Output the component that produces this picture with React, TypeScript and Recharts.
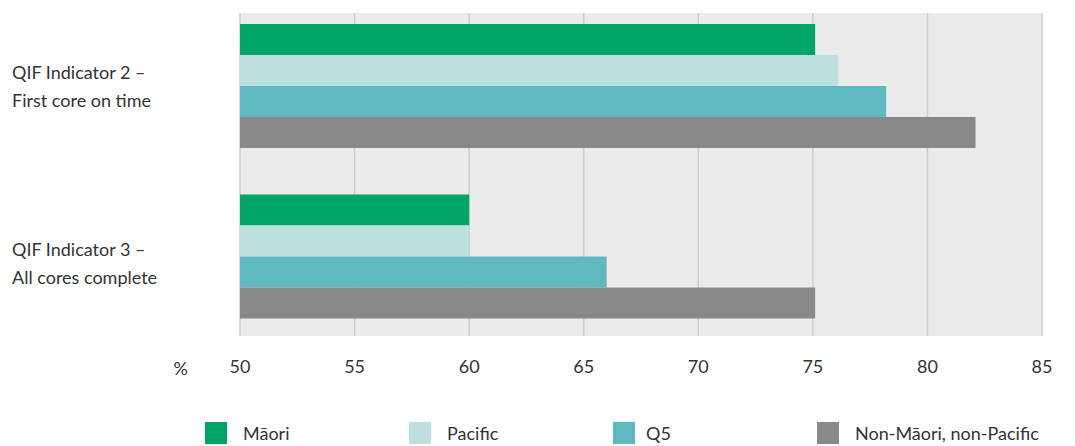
import React from 'react';
import { BarChart, Bar, XAxis, YAxis, CartesianGrid } from 'recharts';

const categories = ['QIF Indicator 2 –|First core on time', 'QIF Indicator 3 –|All cores complete'];
const maori = [75.1, 60.0];
const pacific = [76.1, 60.0];
const q5 = [78.2, 66.0];
const nonMaori = [82.1, 75.1];
const xTicks = [50, 55, 60, 65, 70, 75, 80, 85];

const seriesNames = ['Māori', 'Pacific', 'Q5', 'Non-Māori, non-Pacific'];
const seriesKeys = ['maori', 'pacific', 'q5', 'nonMaori'];
const seriesColors = ['#00a665', '#bcdfe0', '#5fb9c1', '#898989'];

const data = categories.map((c, i) => ({
  category: c,
  maori: maori[i],
  pacific: pacific[i],
  q5: q5[i],
  nonMaori: nonMaori[i],
}));

const FONT = 'Lato, "Open Sans", sans-serif';
const TEXT = '#333333';

const CategoryTick = (props: any) => {
  const { y, payload, index } = props;
  const lines = String(payload.value).split('|');
  const shift = (index ?? payload.index ?? 0) * 7;
  return (
    <g>
      {lines.map((l: string, i: number) => (
        <text
          key={i}
          x={12}
          y={y - 14 + shift + i * 28}
          dy="0.35em"
          textAnchor="start"
          fontFamily={FONT}
          fontSize={18}
          fill={TEXT}
        >
          {l}
        </text>
      ))}
    </g>
  );
};

const LegendBlock = () => (
  <div
    style={{
      position: 'absolute',
      left: 205,
      top: 422,
      display: 'flex',
      fontFamily: FONT,
      fontSize: 18,
      color: TEXT,
      whiteSpace: 'nowrap',
      lineHeight: '22px',
    }}
  >
    {seriesNames.map((n, i) => (
      <div key={n} style={{ display: 'flex', alignItems: 'center', width: 204 }}>
        <div style={{ width: 22, height: 22, background: seriesColors[i], marginRight: i === 2 ? 11 : 16, flex: 'none' }} />
        <span>{n}</span>
      </div>
    ))}
  </div>
);

export default function App() {
  return (
    <div style={{ position: 'absolute', left: 0, top: 0, width: 1075, height: 446, background: '#fff' }}>
      <BarChart
        width={1075}
        height={446}
        data={data}
        layout="vertical"
        margin={{ top: 13, right: 33, bottom: 70, left: 0 }}
        barGap={0}
        barSize={31}
      >
        <CartesianGrid
          horizontal={false}
          vertical={true}
          fill="#ebebeb"
          stroke="#cccccc"
          strokeWidth={1.5}
        />
        <XAxis
          type="number"
          domain={[50, 85]}
          ticks={xTicks}
          allowDataOverflow
          axisLine={false}
          tickLine={false}
          tickSize={0}
          tickMargin={24}
          height={40}
          tick={{ fontFamily: FONT, fontSize: 18, fill: TEXT }}
          label={{ value: '%', position: 'left', offset: 52, dy: 13, fontFamily: FONT, fontSize: 18, fill: TEXT }}
        />
        <YAxis
          type="category"
          dataKey="category"
          width={240}
          axisLine={false}
          tickLine={false}
          tickSize={0}
          padding={{ top: -12, bottom: -6 }}
          tick={<CategoryTick />}
        />
        {seriesKeys.map((k, i) => (
          <Bar key={k} dataKey={k} name={seriesNames[i]} fill={seriesColors[i]} isAnimationActive={false} />
        ))}
      </BarChart>
      <LegendBlock />
    </div>
  );
}
